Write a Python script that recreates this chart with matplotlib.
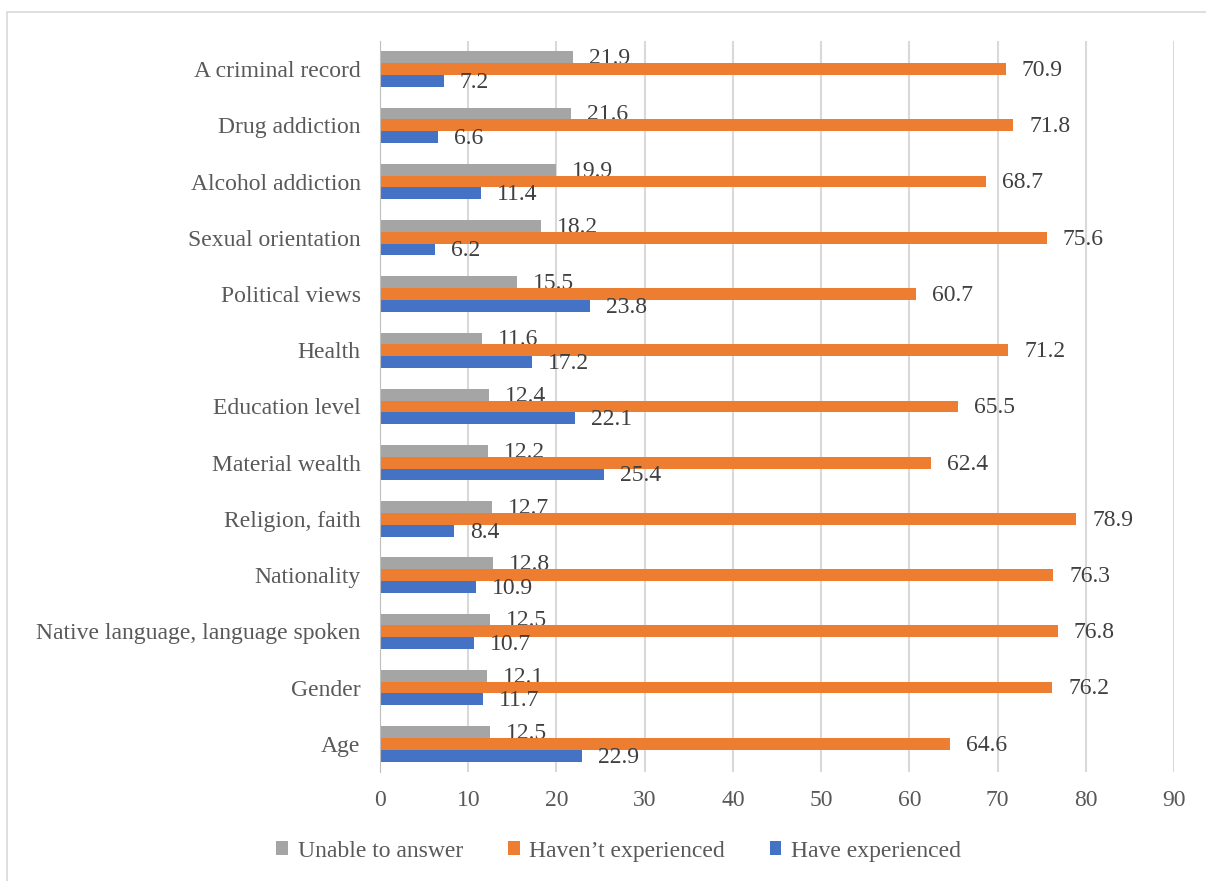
import numpy as np
import matplotlib.pyplot as plt
from matplotlib.patches import Rectangle

plt.rcParams['font.family'] = ['Liberation Serif', 'DejaVu Serif']

categories = ["Age", "Gender", "Native language, language spoken", "Nationality",
              "Religion, faith", "Material wealth", "Education level", "Health",
              "Political views", "Sexual orientation", "Alcohol addiction",
              "Drug addiction", "A criminal record"]
unable = [12.5, 12.1, 12.5, 12.8, 12.7, 12.2, 12.4, 11.6, 15.5, 18.2, 19.9, 21.6, 21.9]
havent = [64.6, 76.2, 76.8, 76.3, 78.9, 62.4, 65.5, 71.2, 60.7, 75.6, 68.7, 71.8, 70.9]
have = [22.9, 11.7, 10.7, 10.9, 8.4, 25.4, 22.1, 17.2, 23.8, 6.2, 11.4, 6.6, 7.2]

series = [("Unable to answer", unable, "#A5A5A5", 0.21),
          ("Haven\u2019t experienced", havent, "#ED7D31", 0.0),
          ("Have experienced", have, "#4472C4", -0.21)]

fig = plt.figure(figsize=(12.06, 8.81), dpi=100)
# outer chart frame (right and bottom edges fall outside the crop)
fig.patches.append(Rectangle((7 / 1206, -0.05), 1.2, (869 / 881) + 0.05,
                             transform=fig.transFigure, fill=False,
                             edgecolor="#D9D9D9", linewidth=1.2))
ax = fig.add_axes([0.3151, 0.1238, 0.6584, 0.8297])

y = np.arange(len(categories))
h = 0.21
txt = "#404040"
for name, vals, col, off in series:
    ax.barh(y + off, vals, height=h, color=col, label=name, zorder=3)
    for yi, v in zip(y, vals):
        ax.annotate(f"{v:.1f}", (v, yi + off), xytext=(11.5, -1), textcoords="offset points",
                    va="center", ha="left", fontsize=17, color=txt)

ax.set_xlim(0, 90)
ax.set_ylim(-0.5, len(categories) - 0.5)
ax.set_xticks(np.arange(0, 91, 10))
ax.set_yticks(y)
ax.set_yticklabels(categories)
ax.tick_params(axis="both", length=0, labelsize=17, labelcolor="#595959")
ax.tick_params(axis="y", pad=14)
ax.tick_params(axis="x", pad=13)
ax.grid(axis="x", color="#D9D9D9", linewidth=1.5, zorder=0)
for s in ["top", "right", "bottom"]:
    ax.spines[s].set_visible(False)
ax.spines["left"].set_color("#BFBFBF")
ax.spines["left"].set_zorder(4)

fig.legend(loc="center", bbox_to_anchor=(0.513, 0.034), ncol=3, frameon=False,
           fontsize=17, labelcolor="#595959", handlelength=0.5, handleheight=0.5,
           columnspacing=1.9, handletextpad=0.4)

plt.savefig("out.png", dpi=100)
